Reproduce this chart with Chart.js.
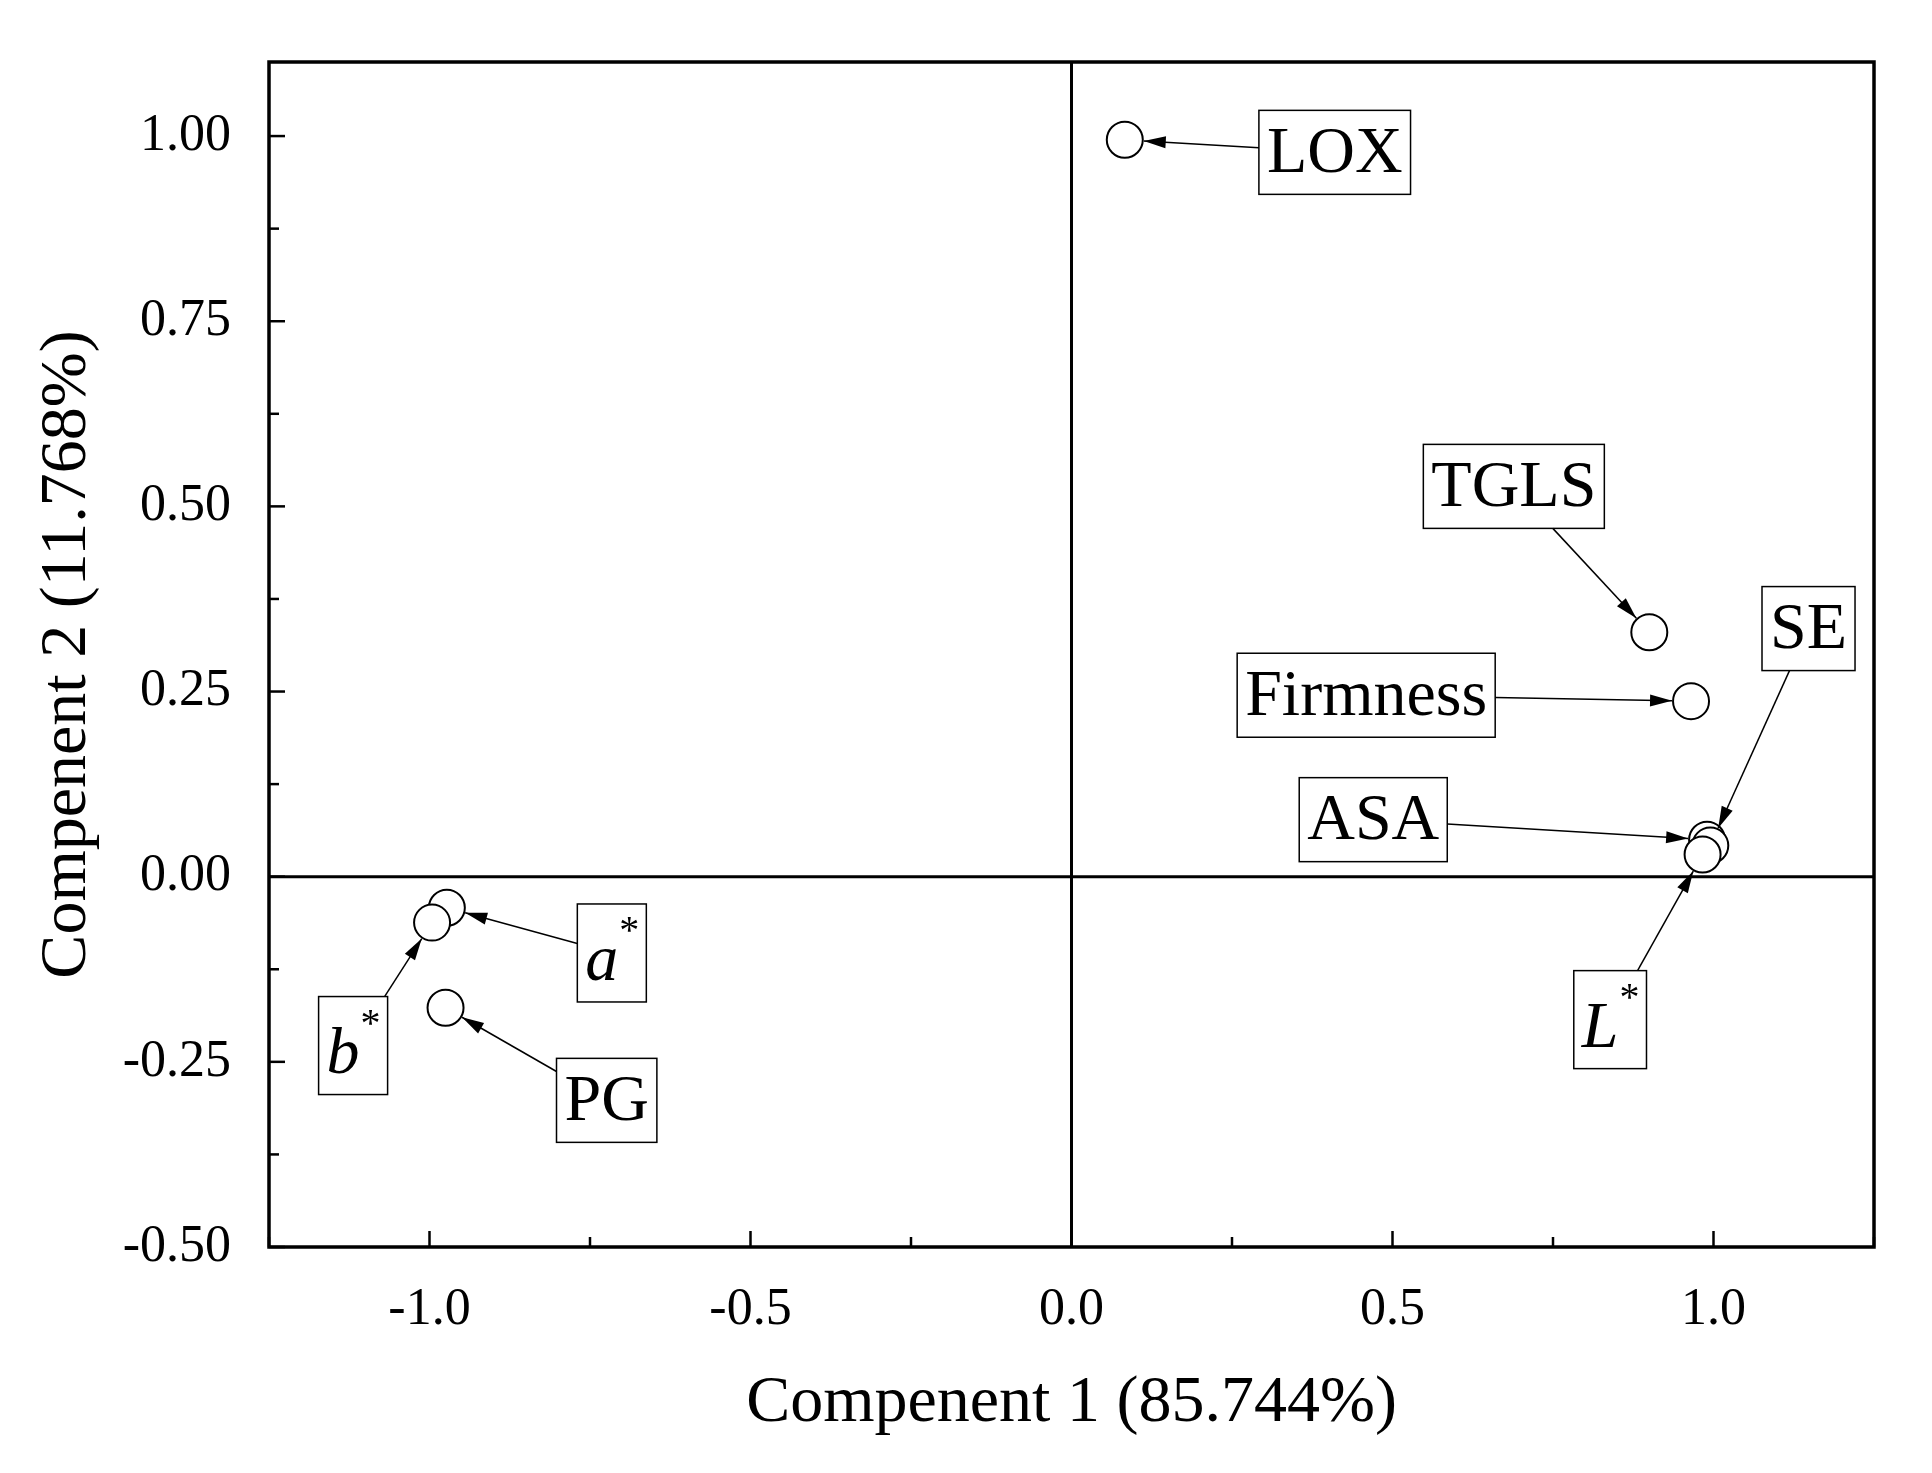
<!DOCTYPE html>
<html><head><meta charset="utf-8">
<script src="https://cdn.jsdelivr.net/npm/chart.js@4"></script>
<style>html,body{margin:0;padding:0;background:#fff}#w{width:1932px;height:1473px}</style>
</head><body><div id="w"><canvas id="c"></canvas></div>
<script>
const variables = ["LOX","TGLS","Firmness","ASA","SE","L*","a*","b*","PG"];
const comp1 = [0.083, 0.90, 0.965, 0.99, 0.995, 0.983, -0.973, -0.996, -0.975];
const comp2 = [0.995, 0.33, 0.237, 0.05, 0.042, 0.03, -0.042, -0.062, -0.177];
const labelX = [0.41, 0.689, 0.459, 0.47, 1.148, 0.839, -0.716, -1.119, -0.724];
const labelY = [0.978, 0.527, 0.245, 0.077, 0.335, -0.193, -0.103, -0.228, -0.302];
const FONT = '"Liberation Serif", "Times New Roman", serif';
const R = 18;

function drawArrow(ctx, x1, y1, x2, y2) {
  ctx.beginPath(); ctx.moveTo(x1, y1); ctx.lineTo(x2, y2); ctx.stroke();
  const a = Math.atan2(y2 - y1, x2 - x1), L = 22, W = 6;
  ctx.beginPath();
  ctx.moveTo(x2, y2);
  ctx.lineTo(x2 - L*Math.cos(a) + W*Math.sin(a), y2 - L*Math.sin(a) - W*Math.cos(a));
  ctx.lineTo(x2 - L*Math.cos(a) - W*Math.sin(a), y2 - L*Math.sin(a) + W*Math.cos(a));
  ctx.closePath(); ctx.fill();
}

const deco = {
  id: 'deco',
  beforeDatasetsDraw(chart) {
    const {ctx, chartArea: a, scales: {x, y}} = chart;
    ctx.save(); ctx.strokeStyle = '#000'; ctx.lineWidth = 3;
    const x0 = x.getPixelForValue(0), y0 = y.getPixelForValue(0);
    ctx.beginPath(); ctx.moveTo(x0, a.top); ctx.lineTo(x0, a.bottom);
    ctx.moveTo(a.left, y0); ctx.lineTo(a.right, y0); ctx.stroke();
    ctx.lineWidth = 2.5;
    x.ticks.forEach(t => {
      const px = x.getPixelForValue(t.value);
      const major = Math.abs(t.value*2 - Math.round(t.value*2)) < 1e-6;
      ctx.beginPath(); ctx.moveTo(px, a.bottom); ctx.lineTo(px, a.bottom - (major ? 16 : 10)); ctx.stroke();
    });
    y.ticks.forEach(t => {
      const py = y.getPixelForValue(t.value);
      const major = Math.abs(t.value*4 - Math.round(t.value*4)) < 1e-6;
      ctx.beginPath(); ctx.moveTo(a.left, py); ctx.lineTo(a.left + (major ? 16 : 10), py); ctx.stroke();
    });
    ctx.lineWidth = 3.5;
    ctx.strokeRect(a.left, a.top, a.right - a.left, a.bottom - a.top);
    ctx.restore();
  },
  afterDatasetsDraw(chart) {
    const {ctx, scales: {x, y}} = chart;
    ctx.save();
    ctx.textBaseline = 'middle'; ctx.textAlign = 'left';
    variables.forEach((v, i) => {
      const cx = x.getPixelForValue(labelX[i]), cy = y.getPixelForValue(labelY[i]);
      const px = x.getPixelForValue(comp1[i]), py = y.getPixelForValue(comp2[i]);
      const star = v.endsWith('*');
      const base = star ? v.slice(0, -1) : v;
      ctx.font = (star ? 'italic ' : '') + '66px ' + FONT;
      const bw = ctx.measureText(base).width;
      ctx.font = '40px ' + FONT;
      const sw = star ? ctx.measureText('*').width : 0;
      const tw = bw + sw;
      const w = tw + 16, h = star ? 98 : 84;
      const bx = cx - w/2, by = cy - h/2;
      ctx.fillStyle = '#fff'; ctx.fillRect(bx, by, w, h);
      ctx.strokeStyle = '#000'; ctx.lineWidth = 1.5; ctx.strokeRect(bx, by, w, h);
      ctx.fillStyle = '#000';
      ctx.font = (star ? 'italic ' : '') + '66px ' + FONT;
      ctx.fillText(base, cx - tw/2, cy + (star ? 10 : 2));
      if (star) { ctx.font = '40px ' + FONT; ctx.fillText('*', cx - tw/2 + bw + 1, cy - 20); }
      const dx = px - cx, dy = py - cy;
      const tb = Math.min(Math.abs((w/2) / (dx || 1e-9)), Math.abs((h/2) / (dy || 1e-9)));
      const sx = cx + dx*tb, sy = cy + dy*tb;
      const d = Math.hypot(px - sx, py - sy);
      const ex = px - (px - sx) / d * (R + 1), ey = py - (py - sy) / d * (R + 1);
      ctx.lineWidth = 1.5;
      drawArrow(ctx, sx, sy, ex, ey);
    });
    ctx.restore();
  }
};

new Chart(document.getElementById('c'), {
  type: 'scatter',
  data: { datasets: [{
    data: comp1.map((v, i) => ({x: v, y: comp2[i]})),
    pointRadius: R, pointHoverRadius: R, pointBackgroundColor: '#fff',
    pointBorderColor: '#000', pointBorderWidth: 2
  }]},
  options: {
    responsive: true, maintainAspectRatio: false, animation: false,
    devicePixelRatio: 1,
    layout: { padding: { top: 62, right: 58, left: 0, bottom: 0 } },
    plugins: { legend: { display: false }, tooltip: { enabled: false } },
    scales: {
      x: {
        type: 'linear', min: -1.25, max: 1.25,
        afterFit(s) { s.height = 226; },
        grid: { display: false }, border: { display: false },
        ticks: { stepSize: 0.25, padding: 24, color: '#000', font: { family: FONT, size: 52 },
          callback: v => Math.abs(v*2 - Math.round(v*2)) < 1e-6 && Math.abs(v) < 1.2 ? v.toFixed(1) : '' },
        title: { display: true, text: 'Compenent 1 (85.744%)', color: '#000', font: { family: FONT, size: 66 }, padding: { top: 0, bottom: 30 } }
      },
      y: {
        type: 'linear', min: -0.5, max: 1.1,
        afterFit(s) { s.width = 269; },
        grid: { display: false }, border: { display: false },
        afterBuildTicks(s) { const t = []; for (let k = -4; k <= 8; k++) t.push({ value: k*0.125 }); s.ticks = t; },
        ticks: { padding: 30, color: '#000', font: { family: FONT, size: 52 },
          callback: v => Math.abs(v*4 - Math.round(v*4)) < 1e-6 ? v.toFixed(2) : '' },
        title: { display: true, text: 'Compenent 2 (11.768%)', color: '#000', font: { family: FONT, size: 66 }, padding: { top: 28, bottom: 0 } }
      }
    }
  },
  plugins: [deco]
});
</script></body></html>
